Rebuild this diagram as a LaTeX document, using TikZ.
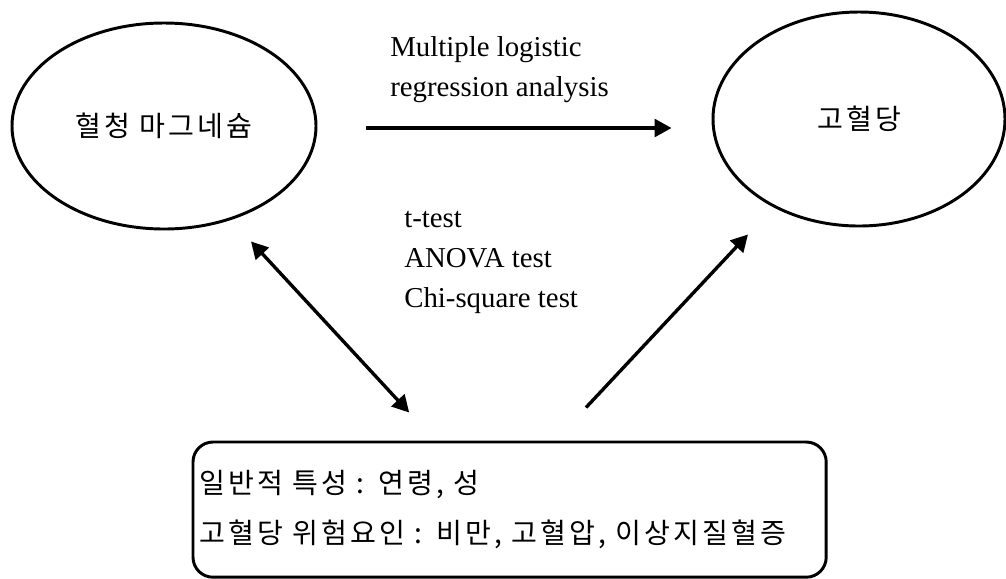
\documentclass[tikz,border=0pt]{standalone}
\usepackage{fontspec}
\setmainfont{Liberation Serif}
\newfontfamily\kr[LetterSpace=11]{Noto Sans CJK KR}
\usepackage{tikz}
\usetikzlibrary{arrows.meta,shapes.geometric}

\begin{document}
\begin{tikzpicture}[
  oval/.style={draw, ellipse, line width=2.1pt, inner sep=0pt,
               font=\kr\fontsize{20}{24}\selectfont},
  riskbox/.style={draw, rectangle, rounded corners=5mm, line width=2.1pt,
                  minimum width=15.83cm, minimum height=3.38cm,
                  text width=15.5cm, align=left, inner xsep=1.5mm,
                  font=\kr\fontsize{20}{35}\selectfont},
  lbl/.style={align=left, inner sep=0pt, font=\fontsize{20.5}{28.4}\selectfont},
  arr/.style={-{Triangle[length=4.2mm,width=4.4mm]}, line width=2.4pt},
  darr/.style={{Triangle[length=4.2mm,width=4.4mm]}-{Triangle[length=4.2mm,width=4.4mm]}, line width=2.4pt}]
\useasboundingbox (0,0) rectangle (25.15,-14.45);
% --- the two ovals ---
\node[oval, minimum width=7.6cm, minimum height=5.15cm] (mg) at (4.1,-3.15)
  {혈청 마그네슘};
\node[oval, minimum width=7.3cm, minimum height=5.35cm] (hg) at (21.475,-2.975)
  {고혈당};
% --- covariates ---
\node[riskbox] (risk) at (12.74,-12.74)
  {일반적 특성 : 연령, 성\\
   고혈당 위험요인 : 비만, 고혈압, 이상지질혈증};
% --- labels (base = last line) ---
\node[lbl, anchor=base west] (reg) at (9.75,-2.4)
  {Multiple logistic\\regression analysis};
\node[lbl, anchor=base west] (tests) at (10.1,-7.675)
  {t-test\\ANOVA test\\Chi-square test};
% --- arrows ---
\draw[arr] ([shift={(1.22,-0.05)}]mg.east) -- ([shift={(-1,-0.05)}]hg.west |- mg.east);
\draw[darr] ([shift={(2.175,-0.275)}]mg.south) -- ([shift={(-2.51,0.7)}]risk.north);
\draw[arr] ([shift={(1.91,0.825)}]risk.north) -- ([shift={(-2.775,-0.175)}]hg.south);
\end{tikzpicture}
\end{document}
